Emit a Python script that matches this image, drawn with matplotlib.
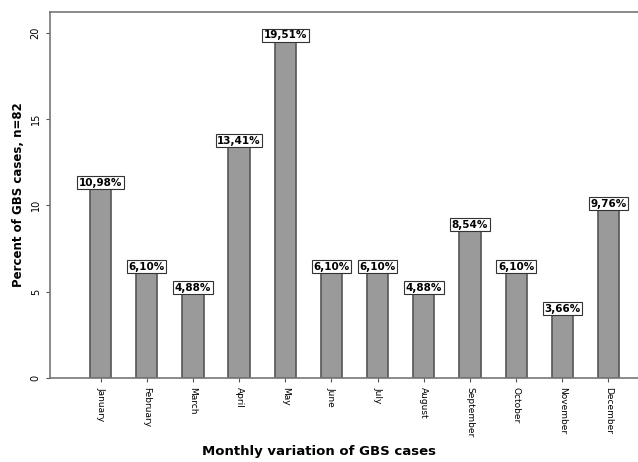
import matplotlib.pyplot as plt

months = ['January', 'February', 'March', 'April', 'May', 'June', 'July',
          'August', 'September', 'October', 'November', 'December']
percent = [10.98, 6.10, 4.88, 13.41, 19.51, 6.10, 6.10, 4.88, 8.54, 6.10, 3.66, 9.76]
labels = ['10,98%', '6,10%', '4,88%', '13,41%', '19,51%', '6,10%', '6,10%',
          '4,88%', '8,54%', '6,10%', '3,66%', '9,76%']

fig = plt.figure(figsize=(6.38, 4.62), dpi=100)
ax = fig.add_axes([0.078, 0.182, 0.93, 0.792])

x = range(len(months))
ax.bar(x, percent, width=0.46, color='#9a9a9a', edgecolor='#555555', linewidth=1.2)

for i, (v, lab) in enumerate(zip(percent, labels)):
    ax.text(i, v + 0.05, lab, ha='center', va='bottom', fontsize=7.5, fontweight='bold',
            bbox=dict(boxstyle='square,pad=0.15', fc='white', ec='#333333', lw=0.8))

ax.set_xlim(-1.1, 11.75)
ax.set_ylim(0, 21.2)
ax.set_yticks([0, 5, 10, 15, 20])
ax.set_yticklabels(['0', '5', '10', '15', '20'], rotation=90, va='center', fontsize=7)
ax.set_xticks(list(x))
ax.set_xticklabels(months, rotation=270, fontsize=6.5)
ax.tick_params(axis='both', length=3, color='#555555')

for s in ax.spines.values():
    s.set_color('#777777')
    s.set_linewidth(1.2)

fig.text(0.5, 0.022, 'Monthly variation of GBS cases', ha='center', va='center',
         fontweight='bold', fontsize=9.5)
ax.set_ylabel('Percent of GBS cases, n=82', fontweight='bold', fontsize=8.5, labelpad=4)

fig.savefig('out.png', dpi=100)
